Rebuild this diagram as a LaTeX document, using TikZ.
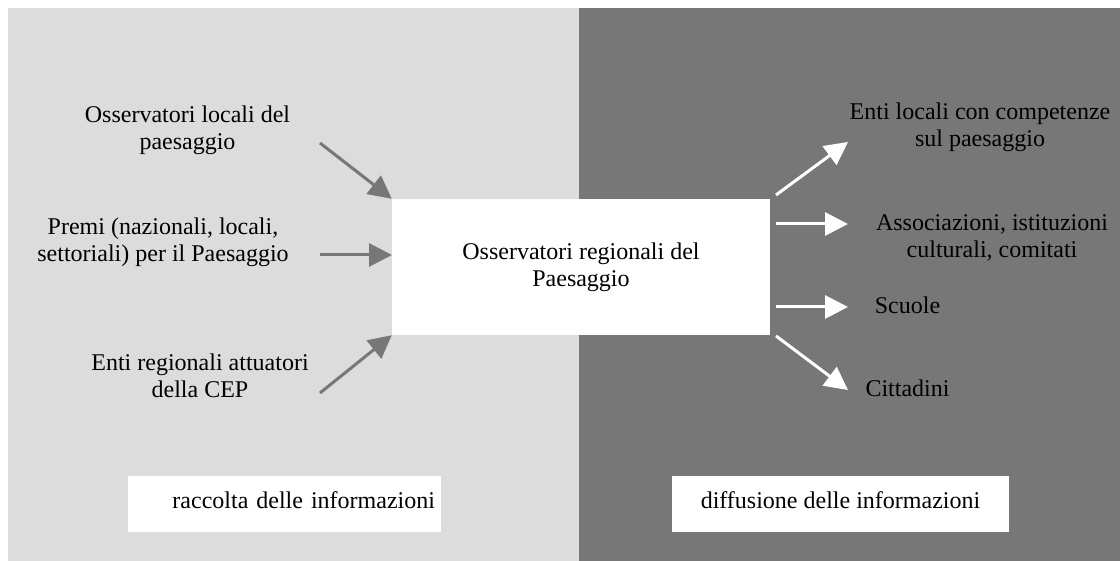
\documentclass[tikz,border=0pt]{standalone}
\usepackage{fontspec}
\setmainfont{Liberation Serif}
\usetikzlibrary{arrows.meta}
\definecolor{lightpanel}{HTML}{DCDCDC}
\definecolor{darkpanel}{HTML}{777777}
\newcommand{\tallstrut}[1]{\rule[-8.1pt]{0pt}{#1}}
\begin{document}
\begin{tikzpicture}[x=1pt,y=-1pt,
  txt/.style={font=\fontsize{24}{27}\selectfont, align=center, inner sep=0pt, text=black},
  inarrow/.style={draw=darkpanel, line width=3pt, -{Triangle[length=23pt,width=23pt]}},
  outarrow/.style={draw=white, line width=3pt, -{Triangle[length=23pt,width=23pt]}},
  whitebox/.style={fill=white, draw=none}]
\useasboundingbox (0,0) rectangle (1120,561);
\fill[lightpanel] (8,8) rectangle (579,561);
\fill[darkpanel] (579,8) rectangle (1120,561);

% central box
\node[whitebox, txt, minimum width=378pt, minimum height=136pt] (obs) at (581,267)
  {\tallstrut{29pt}Osservatori regionali del\\\strut Paesaggio};

% left sources
\node[txt] (ol) at (187.5,131) {\strut Osservatori locali del\\\strut paesaggio};
\node[txt] (pr) at (163,243) {\strut Premi (nazionali, locali,\\\strut settoriali) per il Paesaggio};
\node[txt] (er) at (200,379) {\strut Enti regionali attuatori\\\strut della CEP};

% right targets
\node[txt] (el) at (980,128) {\strut Enti locali con competenze\\\strut sul paesaggio};
\node[txt] (as) at (992,239) {\strut Associazioni, istituzioni\\\strut culturali, comitati};
\node[txt] (sc) at (907.5,308) {\strut Scuole};
\node[txt] (ci) at (907.5,391) {\strut Cittadini};

% bottom labels
\node[whitebox, txt, text width=301pt, inner xsep=6pt, inner ysep=0pt, align=right, minimum height=56pt] (rac) at (284.5,504)
  {\tallstrut{25pt}raccolta delle informazioni};
\node[whitebox, txt, minimum width=337pt, minimum height=56pt] (dif) at (840.5,504)
  {\tallstrut{25pt}diffusione delle informazioni};

% arrow end points
\coordinate (a1s) at (320,143);
\coordinate (a2s) at (320,255);
\coordinate (a2e) at (392,255);
\coordinate (a3s) at (320,393);
\coordinate (r1s) at (776,195);
\coordinate (r1e) at (848,142);
\coordinate (r2s) at (776,224);
\coordinate (r2e) at (848,224);
\coordinate (r3s) at (776,307);
\coordinate (r3e) at (848,307);
\coordinate (r4s) at (776,336);
\coordinate (r4e) at (848,390);

\draw[inarrow] (a1s) -- (obs.north west);
\draw[inarrow] (a2s) -- (a2e);
\draw[inarrow] (a3s) -- (obs.south west);

\draw[outarrow] (r1s) -- (r1e);
\draw[outarrow] (r2s) -- (r2e);
\draw[outarrow] (r3s) -- (r3e);
\draw[outarrow] (r4s) -- (r4e);
\end{tikzpicture}
\end{document}
